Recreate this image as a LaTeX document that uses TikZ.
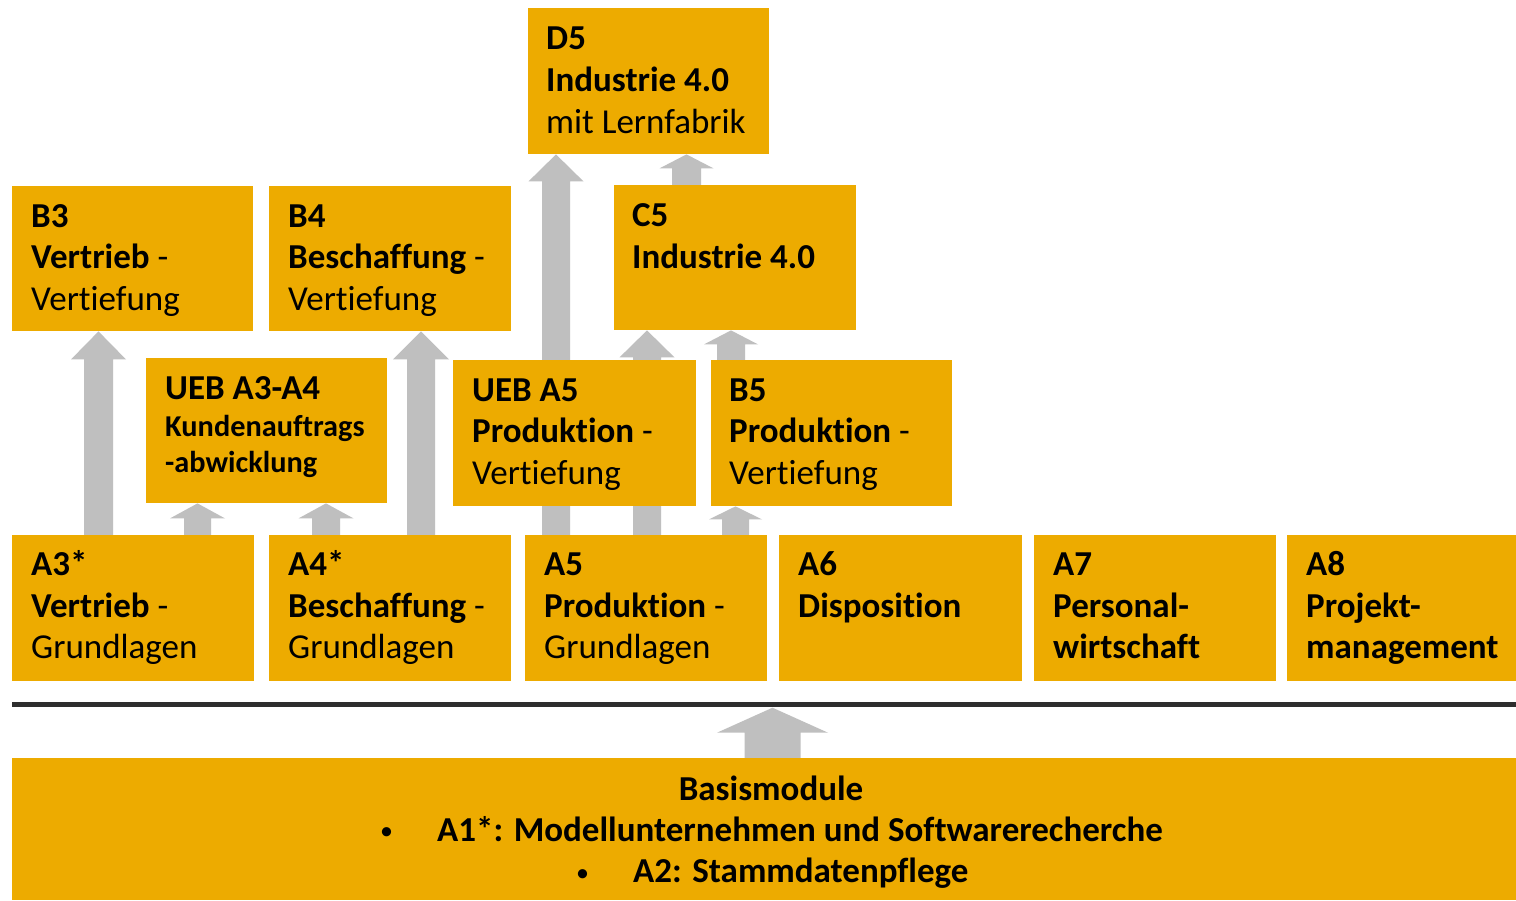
\documentclass[tikz,border=0pt]{standalone}
\usepackage{fontspec}
\setmainfont{Carlito}[RawFeature={-liga;-clig;-calt;-dlig}]
\usetikzlibrary{calc,backgrounds}
\definecolor{boxorange}{HTML}{EDAB00}
\definecolor{arrgray}{HTML}{BFBFBF}
\definecolor{linegray}{HTML}{2E2E2E}
\tikzset{
  modbox/.style={fill=boxorange, draw=none, inner sep=0pt, anchor=north west},
  txt/.style={anchor=base west, inner sep=0pt, font=\fontsize{35}{41}\selectfont},
  smalltxt/.style={anchor=base west, inner sep=0pt, font=\fontsize{30.3}{36}\selectfont},
  bullettxt/.style={anchor=base west, inner sep=0pt, font=\fontsize{26}{30}\selectfont},
}
% #1 from node, #2 to node, #3 centre x, #4 shaft half width, #5 head half width, #6 head length
\newcommand\blockarr[6]{%
  \fill[arrgray] let \p1=(#1.north), \p2=(#2.south) in
   (#3pt-#4pt,\y1) -- (#3pt-#4pt,\y2-#6pt) -- (#3pt-#5pt,\y2-#6pt) -- (#3pt,\y2)
   -- (#3pt+#5pt,\y2-#6pt) -- (#3pt+#4pt,\y2-#6pt) -- (#3pt+#4pt,\y1) -- cycle;}
\begin{document}
\begin{tikzpicture}[x=1pt,y=1pt]
\useasboundingbox (0,0) rectangle (1516,900);

% boxes
\node[modbox, minimum width=241, minimum height=146] (d5) at (528,892) {};
\node[modbox, minimum width=242, minimum height=145] (c5) at (614,715) {};
\node[modbox, minimum width=241, minimum height=145] (b3) at (12,714) {};
\node[modbox, minimum width=242, minimum height=145] (b4) at (269,714) {};
\node[modbox, minimum width=241, minimum height=145] (u34) at (146,542) {};
\node[modbox, minimum width=243, minimum height=146] (u5) at (453,540) {};
\node[modbox, minimum width=241, minimum height=146] (b5) at (711,540) {};
\node[modbox, minimum width=242, minimum height=146] (a3) at (12,365) {};
\node[modbox, minimum width=242, minimum height=146] (a4) at (269,365) {};
\node[modbox, minimum width=242, minimum height=146] (a5) at (525,365) {};
\node[modbox, minimum width=243, minimum height=146] (a6) at (779,365) {};
\node[modbox, minimum width=242, minimum height=146] (a7) at (1034,365) {};
\node[modbox, minimum width=229, minimum height=146] (a8) at (1287,365) {};
\node[modbox, minimum width=1504, minimum height=142] (basis) at (12,142) {};
\node[fill=linegray, draw=none, inner sep=0pt, minimum width=1504, minimum height=5, anchor=west] (sep) at (12,195) {};

% arrows behind the boxes
\begin{pgfonlayer}{background}
\fill[white] (0,0) rectangle (1516,900);
\blockarr{a3}{b3}{98.5}{14.5}{27.5}{28}
\blockarr{a3}{u34}{197.5}{13.5}{27.5}{15}
\blockarr{a4}{u34}{326}{14}{27.5}{15}
\blockarr{a4}{b4}{421}{14}{28}{28}
\blockarr{a5}{d5}{556}{14}{27.5}{27}
\blockarr{a5}{c5}{647}{14}{27.5}{27}
\blockarr{c5}{d5}{686.5}{14.5}{27}{14}
\blockarr{b5}{c5}{731}{14}{27}{14}
\blockarr{a5}{b5}{735.5}{13.5}{26.5}{13}
\blockarr{basis}{sep}{772.5}{28}{55.5}{25}
\end{pgfonlayer}

% texts
\node[txt] (d5t1) at (546,850) {\textbf{D5}};
\node[txt] (d5t2) at (546,808) {\textbf{Industrie 4.0}};
\node[txt] (d5t3) at (546,766) {mit Lernfabrik};

\node[txt] (c5t1) at (632,673) {\textbf{C5}};
\node[txt] (c5t2) at (632,631) {\textbf{Industrie 4.0}};

\node[txt] (b3t1) at (31,672.5) {\textbf{B3}};
\node[txt] (b3t2) at (31,631) {\textbf{Vertrieb} -};
\node[txt] (b3t3) at (31,589.5) {Vertiefung};

\node[txt] (b4t1) at (288,672.5) {\textbf{B4}};
\node[txt] (b4t2) at (288,631) {\textbf{Beschaffung} -};
\node[txt] (b4t3) at (288,589.5) {Vertiefung};

\node[txt] (u34t1) at (165,500.5) {\textbf{UEB A3-A4}};
\node[smalltxt] (u34t2) at (165,463) {\textbf{Kundenauftrags}};
\node[smalltxt] (u34t3) at (165,427) {\textbf{-abwicklung}};

\node[txt] (u5t1) at (472,498.5) {\textbf{UEB A5}};
\node[txt] (u5t2) at (472,457) {\textbf{Produktion} -};
\node[txt] (u5t3) at (472,415.5) {Vertiefung};

\node[txt] (b5t1) at (729,498.5) {\textbf{B5}};
\node[txt] (b5t2) at (729,457) {\textbf{Produktion} -};
\node[txt] (b5t3) at (729,415.5) {Vertiefung};

\node[txt] (a3t1) at (31,324) {\textbf{A3*}};
\node[txt] (a3t2) at (31,282.5) {\textbf{Vertrieb} -};
\node[txt] (a3t3) at (31,241.5) {Grundlagen};

\node[txt] (a4t1) at (288,324) {\textbf{A4*}};
\node[txt] (a4t2) at (288,282.5) {\textbf{Beschaffung} -};
\node[txt] (a4t3) at (288,241.5) {Grundlagen};

\node[txt] (a5t1) at (544,324) {\textbf{A5}};
\node[txt] (a5t2) at (544,282.5) {\textbf{Produktion} -};
\node[txt] (a5t3) at (544,241.5) {Grundlagen};

\node[txt] (a6t1) at (798,324) {\textbf{A6}};
\node[txt] (a6t2) at (798,282.5) {\textbf{Disposition}};

\node[txt] (a7t1) at (1053,324) {\textbf{A7}};
\node[txt] (a7t2) at (1053,282.5) {\textbf{Personal-}};
\node[txt] (a7t3) at (1053,241.5) {\textbf{wirtschaft}};

\node[txt] (a8t1) at (1306,324) {\textbf{A8}};
\node[txt] (a8t2) at (1306,282.5) {\textbf{Projekt-}};
\node[txt] (a8t3) at (1306,241.5) {\textbf{management}};

\node[txt, anchor=base] (bast1) at (771,99.5) {\textbf{Basismodule}};
\node[bullettxt] (basb1) at (380,60) {•};
\node[txt] (bast2) at (437,58) {\textbf{A1*: Modellunternehmen und Softwarerecherche}};
\node[bullettxt] (basb2) at (576,19) {•};
\node[txt] (bast3) at (633,17) {\textbf{A2: Stammdatenpflege}};
\end{tikzpicture}
\end{document}
